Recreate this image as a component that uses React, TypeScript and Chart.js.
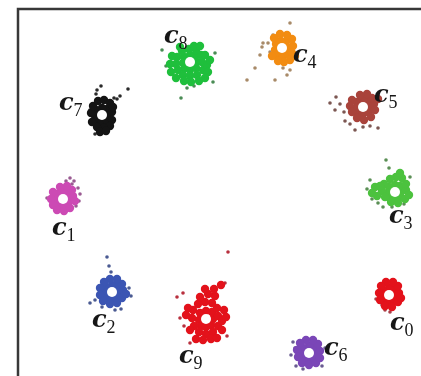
import React, { useEffect, useRef } from "react";
import { Chart, registerables } from "chart.js";

Chart.register(...registerables);

// Cluster labels (c_k) and colours
const clusterIds = ["0", "1", "2", "3", "4", "5", "6", "7", "8", "9"];
const clusterColors = ["#e3121b", "#cc4ab4", "#3b55b3", "#4cc23e", "#f28c12", "#a9433b", "#7a46b7", "#141414", "#1fbf3c", "#e3121b"];
const outlierColors = ["#a8404a", "#9a5a92", "#4a5a92", "#5a8f55", "#a88a68", "#7c5752", "#6a5c92", "#2a2a2a", "#4a8c55", "#b8303e"];

// Cluster centres (embedding coords)
const centerX = [389, 63, 112, 395, 282, 363, 309, 102, 190, 206];
const centerY = [295, 199, 292, 192, 48, 107, 353, 115, 62, 319];

// Label anchor positions
const labelX = [390, 52, 92, 389, 293, 374, 324, 59, 164, 179];
const labelY = [330, 235, 327, 223, 62, 102, 355, 110, 43, 363];

// Dense core points per cluster
const core0: number[][] = [[395,295],[394,289],[389,288],[383,290],[382,296],[384,301],[389,302],[394,300],[399,293],[398,286],[393,282],[386,282],[381,286],[379,293],[380,300],[385,306],[392,307],[398,302],[401,298]];
const core1: number[][] = [[69,199],[68,193],[63,192],[57,194],[56,200],[58,205],[63,206],[68,204],[73,196],[72,190],[67,186],[60,187],[53,192],[51,199],[53,205],[57,210],[64,211],[70,208],[75,201]];
const core2: number[][] = [[118,292],[117,286],[112,285],[106,287],[105,293],[107,298],[112,299],[117,297],[123,290],[122,284],[117,279],[110,279],[104,282],[100,288],[100,295],[103,301],[110,304],[117,303],[122,298],[126,294]];
const core3: number[][] = [[401,192],[400,186],[395,185],[389,187],[388,193],[390,198],[395,199],[400,197],[406,190],[406,184],[402,178],[396,177],[390,179],[384,184],[382,191],[385,197],[391,202],[398,203],[405,199],[409,195],[400,173],[380,186],[375,187],[372,193],[377,196]];
const core4: number[][] = [[288,48],[286,42],[281,41],[276,44],[275,50],[278,55],[283,56],[288,54],[293,46],[292,39],[287,35],[280,34],[274,38],[292,53],[290,60],[284,62],[278,61],[272,56],[295,56]];
const core5: number[][] = [[369,107],[368,101],[363,100],[357,102],[356,108],[358,113],[363,114],[368,112],[374,104],[372,98],[367,94],[360,95],[352,100],[350,106],[352,112],[357,118],[364,120],[371,117],[375,110],[378,99]];
const core6: number[][] = [[315,353],[314,347],[309,346],[303,348],[302,354],[304,359],[309,360],[314,358],[320,351],[318,344],[313,340],[306,340],[300,343],[297,350],[298,357],[302,363],[309,365],[316,363],[320,358]];
const core7: number[][] = [[108,115],[107,109],[102,108],[96,110],[95,116],[97,121],[102,122],[107,121],[112,112],[112,120],[110,126],[104,128],[97,127],[92,122],[91,113],[93,106],[98,101],[104,100],[110,103],[113,107],[100,132],[106,131]];
const core8: number[][] = [[197,62],[195,56],[190,55],[184,57],[183,63],[185,68],[190,70],[196,68],[202,62],[201,55],[196,50],[189,49],[182,51],[177,57],[176,64],[178,70],[183,75],[190,76],[197,75],[203,70],[207,65],[208,72],[205,78],[199,81],[191,82],[184,81],[176,78],[171,72],[170,64],[172,56],[180,47],[194,46],[205,55],[210,60],[200,46]];
const core9: number[][] = [[213,319],[212,312],[206,311],[200,313],[199,320],[201,326],[206,327],[211,325],[218,316],[217,308],[212,303],[205,302],[198,304],[193,310],[192,318],[194,326],[199,332],[206,334],[213,332],[218,326],[222,321],[215,296],[208,294],[200,297],[214,289],[221,285],[190,330],[224,310],[186,315],[196,339],[211,339],[205,289],[188,308],[222,330],[203,340],[217,338],[226,317]];

// Scattered outlier points per cluster
const out0: number[][] = [[382,305],[385,310],[379,302],[376,299],[390,312]];
const out1: number[][] = [[70,178],[74,181],[72,184],[78,188],[80,194],[79,201],[76,206],[47,198],[66,181]];
const out2: number[][] = [[107,257],[109,266],[111,272],[90,303],[95,300],[131,296],[129,288],[121,309],[102,307],[115,310]];
const out3: number[][] = [[386,160],[389,168],[370,180],[367,189],[372,199],[378,203],[383,207],[392,207],[404,204],[410,177]];
const out4: number[][] = [[290,23],[273,35],[263,43],[262,47],[268,43],[270,52],[260,55],[255,68],[247,80],[275,80],[287,75],[290,70],[283,68]];
const out5: number[][] = [[330,103],[336,97],[340,104],[335,110],[345,121],[350,124],[355,130],[363,127],[370,126],[378,128],[344,112]];
const out6: number[][] = [[293,342],[295,348],[291,355],[296,366],[303,369],[322,366],[325,348]];
const out7: number[][] = [[128,89],[120,96],[117,99],[97,90],[96,94],[101,86],[114,98],[90,110],[95,134]];
const out8: number[][] = [[162,50],[215,53],[187,88],[194,86],[181,98],[213,82],[166,66]];
const out9: number[][] = [[228,252],[177,297],[183,293],[225,283],[180,318],[184,326],[190,343],[227,336],[203,289]];

const cores = [core0, core1, core2, core3, core4, core5, core6, core7, core8, core9];
const outliers = [out0, out1, out2, out3, out4, out5, out6, out7, out8, out9];

const xMin = 0, xMax = 421, yMin = 0, yMax = 376;
const frameX = 18, frameY = 9;

const framePlugin = {
  id: "frame",
  beforeDatasetsDraw(chart: any) {
    const { ctx, scales } = chart;
    const x0 = scales.x.getPixelForValue(frameX);
    const y0 = scales.y.getPixelForValue(frameY);
    ctx.save();
    ctx.strokeStyle = "#383838";
    ctx.lineWidth = 2.5;
    ctx.beginPath();
    ctx.moveTo(x0, chart.height + 5);
    ctx.lineTo(x0, y0);
    ctx.lineTo(chart.width + 5, y0);
    ctx.stroke();
    ctx.restore();
  },
};

const labelPlugin = {
  id: "clusterLabels",
  afterDatasetsDraw(chart: any) {
    const { ctx, scales } = chart;
    ctx.save();
    ctx.fillStyle = "#161616";
    ctx.textBaseline = "alphabetic";
    ctx.textAlign = "left";
    clusterIds.forEach((id, i) => {
      const px = scales.x.getPixelForValue(labelX[i]);
      const py = scales.y.getPixelForValue(labelY[i]);
      ctx.font = 'italic bold 24px "DejaVu Serif"';
      ctx.fillText("c", px, py);
      const w = ctx.measureText("c").width;
      ctx.font = '18px "Liberation Serif"';
      ctx.fillText(id, px + w, py + 6);
    });
    ctx.restore();
  },
};

export default function App() {
  const ref = useRef<HTMLCanvasElement | null>(null);
  useEffect(() => {
    if (!ref.current) return;
    const datasets: any[] = [];
    datasets.push({
      label: "centres",
      data: centerX.map((x, i) => ({ x, y: centerY[i] })),
      pointRadius: 5,
      pointBackgroundColor: "#ffffff",
      pointBorderWidth: 0,
      order: 0,
    });
    cores.forEach((pts, i) => {
      datasets.push({
        label: "core c" + clusterIds[i],
        data: pts.map((p) => ({ x: p[0], y: p[1] })),
        pointRadius: 4.2,
        pointBackgroundColor: clusterColors[i],
        pointBorderWidth: 0,
        order: 2,
      });
    });
    outliers.forEach((pts, i) => {
      datasets.push({
        label: "outliers c" + clusterIds[i],
        data: pts.map((p) => ({ x: p[0], y: p[1] })),
        pointRadius: 1.8,
        pointBackgroundColor: outlierColors[i],
        pointBorderWidth: 0,
        order: 3,
      });
    });
    const chart = new Chart(ref.current, {
      type: "scatter",
      data: { datasets },
      options: {
        animation: false,
        responsive: false,
        layout: { padding: 0, autoPadding: false },
        plugins: { legend: { display: false }, tooltip: { enabled: false } },
        scales: {
          x: { type: "linear", min: xMin, max: xMax, display: false },
          y: { type: "linear", min: yMin, max: yMax, reverse: true, display: false },
        },
      },
      plugins: [framePlugin, labelPlugin],
    });
    return () => chart.destroy();
  }, []);
  return (
    <div style={{ position: "fixed", left: 0, top: 0, width: 421, height: 376, background: "#fff" }}>
      <canvas ref={ref} width={421} height={376} style={{ display: "block" }} />
    </div>
  );
}
